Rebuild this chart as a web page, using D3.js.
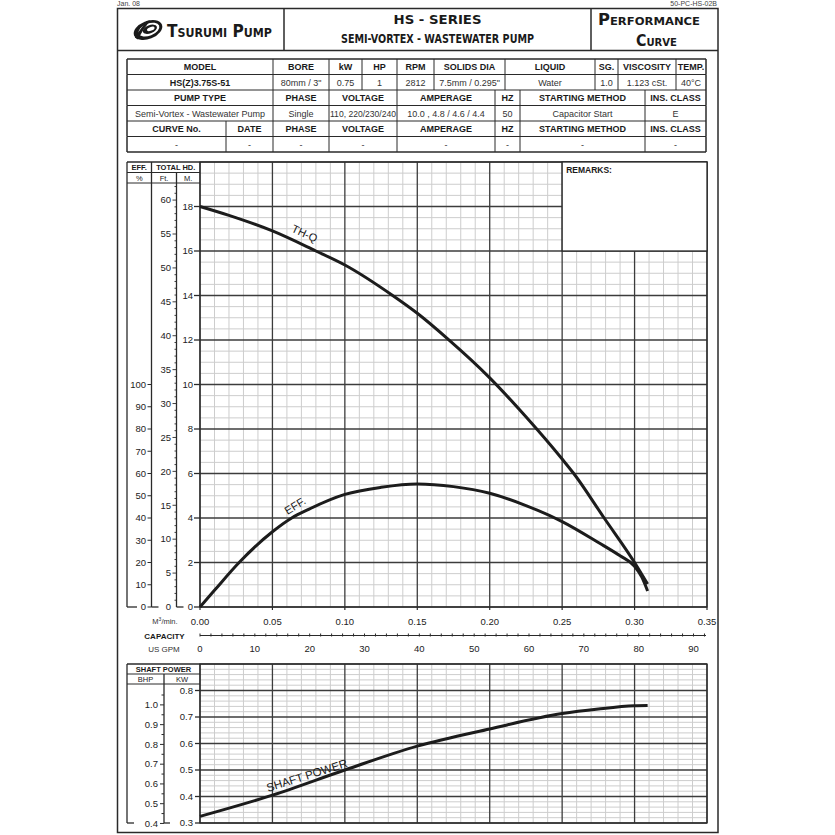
<!DOCTYPE html>
<html><head><meta charset="utf-8">
<script src="https://cdn.jsdelivr.net/npm/d3@7"></script>
<style>
body{margin:0;background:#fff}
svg{display:block}
text{font-family:"Liberation Sans",Arial,sans-serif;fill:#1a1a1a}
</style>
</head><body>
<svg id="c" width="835" height="835"></svg>
<script>
// ---------------- DATA ----------------
// Total head (m) vs capacity (m3/min)
const qHead = [0, 0.02, 0.05, 0.08, 0.10, 0.133, 0.15, 0.171, 0.20, 0.225, 0.25, 0.258, 0.279, 0.30, 0.309];
const head  = [18.0, 17.6, 16.9, 16.0, 15.37, 14.0, 13.2, 12.05, 10.3, 8.55, 6.65, 6.0, 4.0, 2.0, 1.03];
// Efficiency (%) vs capacity
const qEff = [0, 0.01, 0.027, 0.05, 0.0633, 0.075, 0.10, 0.125, 0.15, 0.175, 0.20, 0.225, 0.25, 0.275, 0.29, 0.30, 0.305, 0.309];
const eff  = [0, 7.5, 20, 33.8, 40, 43.9, 50.6, 53.8, 55.3, 54.1, 51.1, 45.6, 38.4, 29.0, 23.0, 18.3, 13.4, 7.2];
// Shaft power (kW) vs capacity
const qPow  = [0, 0.05, 0.10, 0.15, 0.20, 0.25, 0.275, 0.30, 0.309];
const power = [0.325, 0.405, 0.50, 0.59, 0.655, 0.713, 0.73, 0.742, 0.743];

const flowTicks = [0, 0.05, 0.10, 0.15, 0.20, 0.25, 0.30, 0.35];
const gpmTicks  = [0, 10, 20, 30, 40, 50, 60, 70, 80, 90];
const headTicksM  = [0, 2, 4, 6, 8, 10, 12, 14, 16, 18];
const headTicksFt = [0, 5, 10, 15, 20, 25, 30, 35, 40, 45, 50, 55, 60];
const effTicks = [0, 10, 20, 30, 40, 50, 60, 70, 80, 90, 100];
const kwTicks  = [0.3, 0.4, 0.5, 0.6, 0.7, 0.8];
const bhpTicks = [0.4, 0.5, 0.6, 0.7, 0.8, 0.9, 1.0];

const tableRowsText = [
  ["MODEL","BORE","kW","HP","RPM","SOLIDS DIA","LIQUID","SG.","VISCOSITY","TEMP."],
  ["HS(Z)3.75S-51","80mm / 3\"","0.75","1","2812","7.5mm / 0.295\"","Water","1.0","1.123 cSt.","40°C"],
  ["PUMP TYPE","PHASE","VOLTAGE","AMPERAGE","HZ","STARTING METHOD","INS. CLASS"],
  ["Semi-Vortex - Wastewater Pump","Single","110, 220/230/240","10.0 , 4.8 / 4.6 / 4.4","50","Capacitor Start","E"],
  ["CURVE No.","DATE","PHASE","VOLTAGE","AMPERAGE","HZ","STARTING METHOD","INS. CLASS"],
  ["-","-","-","-","-","-","-","-"]
];

// ---------------- LAYOUT ----------------
const svg = d3.select("#c");
const DARK = "#2a2a2a", MAJ = "#3c3c3c", MIN = "#cdcdcd";
const CURVE = "#1c1c1c";
const M3_PER_GPM = 0.003785411784;
const KW_PER_HP = 0.7457;

const PL = 200, PR = 707, PT = 162, PB = 607;
const x = d3.scaleLinear([0, 0.35], [PL, PR]);
const yM = d3.scaleLinear([0, 20], [PB, PT]);
const yFt = d3.scaleLinear([0, 20 / 0.3048], [PB, PT]);
const yEff = d3.scaleLinear([0, 100], [PB, yM(10)]);
const xGpm = d3.scaleLinear([0, 0.35 / M3_PER_GPM], [PL, PR]);

const ST = 664, SB = 823;
const yKw = d3.scaleLinear([0.3, 0.9], [SB, ST]);
const yBhp = d3.scaleLinear([0.3 / KW_PER_HP, 0.9 / KW_PER_HP], [SB, ST]);

function ln(g, x1, y1, x2, y2, stroke, w) {
  return g.append("line").attr("x1", x1).attr("y1", y1).attr("x2", x2).attr("y2", y2)
    .attr("stroke", stroke).attr("stroke-width", w);
}
function txt(g, s, tx, ty, opts = {}) {
  const t = g.append("text").attr("x", tx).attr("y", ty).text(s)
    .attr("font-size", opts.size || 9)
    .attr("text-anchor", opts.anchor || "middle");
  if (opts.bold) t.attr("font-weight", "bold");
  if (opts.family) t.style("font-family", opts.family);
  if (opts.fill) t.style("fill", opts.fill);
  if (opts.sc) t.style("font-variant", "small-caps");
  if (opts.len) t.attr("textLength", opts.len).attr("lengthAdjust", "spacingAndGlyphs");
  return t;
}

// ---------------- PAGE FRAME & HEADER ----------------
const page = svg.append("g");
txt(page, "Jan. 08", 117, 6, {size: 7, anchor: "start", fill: "#444"});
txt(page, "50-PC-HS-02B", 717, 6, {size: 7, anchor: "end", fill: "#444"});
page.append("rect").attr("x", 117.5).attr("y", 8.5).attr("width", 600.5).attr("height", 824)
  .attr("fill", "none").attr("stroke", DARK).attr("stroke-width", 1.5);
ln(page, 117, 50.5, 718, 50.5, DARK, 1.5);
ln(page, 284, 8, 284, 50, DARK, 1.5);
ln(page, 591, 8, 591, 50, DARK, 1.5);

// logo icon
const logo = page.append("g").attr("transform", "translate(148,30) rotate(-22)");
logo.append("ellipse").attr("rx", 15).attr("ry", 9).attr("fill", "#1a1a1a");
logo.append("ellipse").attr("cx", 1).attr("rx", 11).attr("ry", 6).attr("fill", "#fff");
logo.append("ellipse").attr("cx", 2).attr("rx", 7.5).attr("ry", 4).attr("fill", "#1a1a1a");
logo.append("ellipse").attr("cx", 3).attr("rx", 4).attr("ry", 1.8).attr("fill", "#fff");
logo.append("path").attr("d", "M-15,2 Q-8,-3 2,-9 L6,-8 Q-4,-3 -13,5 Z").attr("fill", "#1a1a1a");

const TF = '"DejaVu Sans", "Liberation Sans", sans-serif';
txt(page, "Tsurumi Pump", 167, 37, {size: 18, bold: true, family: TF, anchor: "start", sc: true, len: 105});
txt(page, "HS - SERIES", 437.5, 24, {size: 12.5, bold: true, family: TF, len: 88});
txt(page, "SEMI-VORTEX - WASTEWATER PUMP", 437.5, 43, {size: 11.5, bold: true, family: TF, len: 193});
txt(page, "Performance", 598, 25, {size: 15.5, bold: true, family: TF, anchor: "start", sc: true, len: 102});
txt(page, "Curve", 636, 46, {size: 15.5, bold: true, family: TF, anchor: "start", sc: true, len: 41});

// ---------------- SPEC TABLE ----------------
const tbl = svg.append("g");
const rowsY = [59, 74.5, 90, 105.5, 121, 136.5, 152];
const colsA = [127, 273, 329, 362, 397, 434, 505, 595, 618, 676, 706];
const colsC = [127, 273, 329, 397, 495, 520, 645, 706];
const colsE = [127, 226, 273, 329, 397, 495, 520, 645, 706];
const rowCols = [colsA, colsA, colsC, colsC, colsE, colsE];
tableRowsText.forEach((row, r) => {
  const cols = rowCols[r];
  const y0 = rowsY[r], y1 = rowsY[r + 1];
  cols.forEach((cx, i) => { ln(tbl, cx, y0, cx, y1, DARK, (i === 0 || i === cols.length - 1) ? 1.5 : 1); });
  row.forEach((s, i) => {
    const boldCell = (r % 2 === 0) || (r === 1 && i === 0);
    const w = cols[i + 1] - cols[i];
    const t = txt(tbl, s, (cols[i] + cols[i + 1]) / 2, (y0 + y1) / 2 + 3.3, {size: 9, bold: boldCell, fill: boldCell ? "#1a1a1a" : "#333"});
    const L = t.node().getComputedTextLength();
    if (L > w - 2) t.attr("textLength", w - 2).attr("lengthAdjust", "spacingAndGlyphs");
  });
});
rowsY.forEach((yy, i) => ln(tbl, 127, yy, 706, yy, DARK, (i === 0 || i === rowsY.length - 1) ? 1.5 : 1));

// ---------------- MAIN CHART GRID ----------------
const main = svg.append("g");
const vIdx = d3.range(0, 36);
const hIdx = d3.range(0, 41);
vIdx.filter(i => i % 5).forEach(i => ln(main, x(i / 100), PT, x(i / 100), PB, MIN, 1));
hIdx.filter(i => i % 4).forEach(i => ln(main, PL, yM(i / 2), PR, yM(i / 2), MIN, 1));
vIdx.filter(i => i % 5 === 0).forEach(i => ln(main, x(i / 100), PT, x(i / 100), PB, MAJ, 1.3));
hIdx.filter(i => i % 4 === 0).forEach(i => ln(main, PL, yM(i / 2), PR, yM(i / 2), MAJ, 1.3));
main.append("rect").attr("x", PL).attr("y", PT).attr("width", PR - PL).attr("height", PB - PT)
  .attr("fill", "none").attr("stroke", DARK).attr("stroke-width", 1.3);
// remarks box
main.append("rect").attr("x", x(0.25)).attr("y", yM(20)).attr("width", PR - x(0.25)).attr("height", yM(16) - yM(20))
  .attr("fill", "#fff").attr("stroke", DARK).attr("stroke-width", 1.3);
txt(main, "REMARKS:", x(0.25) + 4, yM(20) + 11, {size: 8.5, bold: true, anchor: "start"});

// left axis columns
const cx0 = 127, cx1 = 151.5, cx2 = 176.5;
const hr1 = 172.5, hr2 = 183;
ln(main, cx0, PT, PL, PT, DARK, 1.3);
ln(main, cx0, hr1, PL, hr1, DARK, 1);
ln(main, cx0, hr2, PL, hr2, DARK, 1);
ln(main, cx0, PT, cx0, PB, DARK, 1.3); ln(main, cx0, PB, cx0 + 10, PB, DARK, 1.3);
ln(main, cx1, PT, cx1, PB, DARK, 1.3); ln(main, cx1, PB, cx1 + 7, PB, DARK, 1.3);
ln(main, cx2, hr1, cx2, PB, DARK, 1.3); ln(main, cx2, PB, cx2 + 7, PB, DARK, 1.3);
txt(main, "EFF.", (cx0 + cx1) / 2, hr1 - 2.5, {size: 7.5, bold: true});
txt(main, "TOTAL HD.", (cx1 + PL) / 2, hr1 - 2.5, {size: 7.5, bold: true});
txt(main, "%", (cx0 + cx1) / 2, hr2 - 2.5, {size: 7.5});
txt(main, "Ft.", (cx1 + cx2) / 2, hr2 - 2.5, {size: 7.5});
txt(main, "M.", (cx2 + PL) / 2, hr2 - 2.5, {size: 7.5});

const axisG = svg.append("g");
effTicks.forEach(v => {
  ln(axisG, cx1 - 4, yEff(v), cx1, yEff(v), DARK, 1);
  txt(axisG, String(v), cx1 - 5.5, yEff(v) + 3.3, {size: 9.5, anchor: "end", fill: "#222"});
});
d3.range(1, 63).forEach(v => {
  const big = v % 5 === 0;
  ln(axisG, cx2 - (big ? 4 : 2), yFt(v), cx2, yFt(v), DARK, 0.9);
});
headTicksFt.forEach(v => txt(axisG, String(v), cx2 - 5.5, yFt(v) + 3.3, {size: 9.5, anchor: "end", fill: "#222"}));
headTicksM.forEach(v => {
  ln(axisG, PL - 6, yM(v), PL, yM(v), DARK, 1.3);
  txt(axisG, String(v), PL - 7, yM(v) + 3.3, {size: 9.5, anchor: "end", fill: "#222"});
});

// bottom axes
flowTicks.forEach(v => {
  ln(axisG, x(v), PB, x(v), PB + 3, DARK, 1.2);
  txt(axisG, d3.format(".2f")(v), x(v), 624.5, {size: 9.5, fill: "#222"});
});
const m3 = axisG.append("text").attr("x", 165).attr("y", 624).attr("text-anchor", "middle").attr("font-size", 7.5).style("fill", "#333");
m3.append("tspan").text("M");
m3.append("tspan").attr("font-size", 5).attr("dy", -3).text("3");
m3.append("tspan").attr("dy", 3).text("/min.");
txt(axisG, "CAPACITY", 164.5, 638.5, {size: 8, bold: true});
const GY = 635.5;
ln(axisG, PL, GY, PR - 1, GY, DARK, 1);
d3.range(0, 93, 2).forEach(v => ln(axisG, xGpm(v), GY - 2, xGpm(v), GY + 1, DARK, 1));
gpmTicks.forEach(v => txt(axisG, String(v), xGpm(v), 652, {size: 9.5, fill: "#222"}));
txt(axisG, "US GPM", 164, 651.5, {size: 8, fill: "#333"});

// ---------------- SHAFT POWER GRID ----------------
const sp = svg.append("g");
const sIdx = d3.range(0, 31);
vIdx.filter(i => i % 5).forEach(i => ln(sp, x(i / 100), ST, x(i / 100), SB, MIN, 1));
sIdx.filter(i => i % 5).forEach(i => ln(sp, PL, yKw(0.3 + i * 0.02), PR, yKw(0.3 + i * 0.02), MIN, 1));
vIdx.filter(i => i % 5 === 0).forEach(i => ln(sp, x(i / 100), ST, x(i / 100), SB, MAJ, 1.3));
sIdx.filter(i => i % 5 === 0).forEach(i => ln(sp, PL, yKw(0.3 + i * 0.02), PR, yKw(0.3 + i * 0.02), MAJ, 1.3));
sp.append("rect").attr("x", PL).attr("y", ST).attr("width", PR - PL).attr("height", SB - ST)
  .attr("fill", "none").attr("stroke", DARK).attr("stroke-width", 1.3);
const sx1 = 164, sh1 = 674, sh2 = 684;
ln(sp, cx0, ST, PL, ST, DARK, 1.3);
ln(sp, cx0, sh1, PL, sh1, DARK, 1);
ln(sp, cx0, sh2, PL, sh2, DARK, 1);
ln(sp, cx0, ST, cx0, SB, DARK, 1.3); ln(sp, cx0, SB, cx0 + 7, SB, DARK, 1.3);
ln(sp, sx1, sh1, sx1, SB, DARK, 1.3); ln(sp, sx1, SB, sx1 + 6, SB, DARK, 1.3);
txt(sp, "SHAFT POWER", (cx0 + PL) / 2, sh1 - 2.5, {size: 7.5, bold: true});
txt(sp, "BHP", (cx0 + sx1) / 2, sh2 - 2.5, {size: 7.5});
txt(sp, "KW", (sx1 + PL) / 2, sh2 - 2.5, {size: 7.5});
d3.range(8, 22).forEach(i => {
  const v = i * 0.05;
  ln(sp, sx1 - (i % 2 ? 2.5 : 4), yBhp(v), sx1, yBhp(v), DARK, 1);
});
bhpTicks.forEach(v => txt(sp, d3.format(".1f")(v), sx1 - 6, yBhp(v) + 3.3, {size: 9.5, anchor: "end", fill: "#222"}));
kwTicks.forEach(v => {
  ln(sp, PL - 5, yKw(v), PL, yKw(v), DARK, 1.3);
  txt(sp, d3.format(".1f")(v), PL - 7, yKw(v) + 3.3, {size: 9.5, anchor: "end", fill: "#222"});
});

// ---------------- CURVES ----------------
const curves = svg.append("g").attr("fill", "none").attr("stroke", CURVE).attr("stroke-width", 3)
  .attr("stroke-linecap", "butt").attr("stroke-linejoin", "round");
const cr = d3.curveMonotoneX;
curves.append("path").attr("d", d3.line().x(d => x(d[0])).y(d => yM(d[1])).curve(cr)(qHead.map((q, i) => [q, head[i]])));
curves.append("path").attr("d", d3.line().x(d => x(d[0])).y(d => yEff(d[1])).curve(cr)(qEff.map((q, i) => [q, eff[i]])));
curves.append("path").attr("d", d3.line().x(d => x(d[0])).y(d => yKw(d[1])).curve(cr)(qPow.map((q, i) => [q, power[i]])));

function curveLabel(s, px, py, ang, size) {
  svg.append("text").attr("transform", `translate(${px},${py}) rotate(${ang})`)
    .attr("text-anchor", "middle").attr("font-size", size).style("fill", "#1a1a1a").text(s);
}
curveLabel("TH-Q", x(0.0711), yM(16.72) + 2, 25, 11);
curveLabel("EFF.", x(0.067), yEff(45.4) + 3, -32, 11);
curveLabel("SHAFT POWER", x(0.0746), yKw(0.45) - 4, -17.5, 11.5);
</script>
</body></html>
